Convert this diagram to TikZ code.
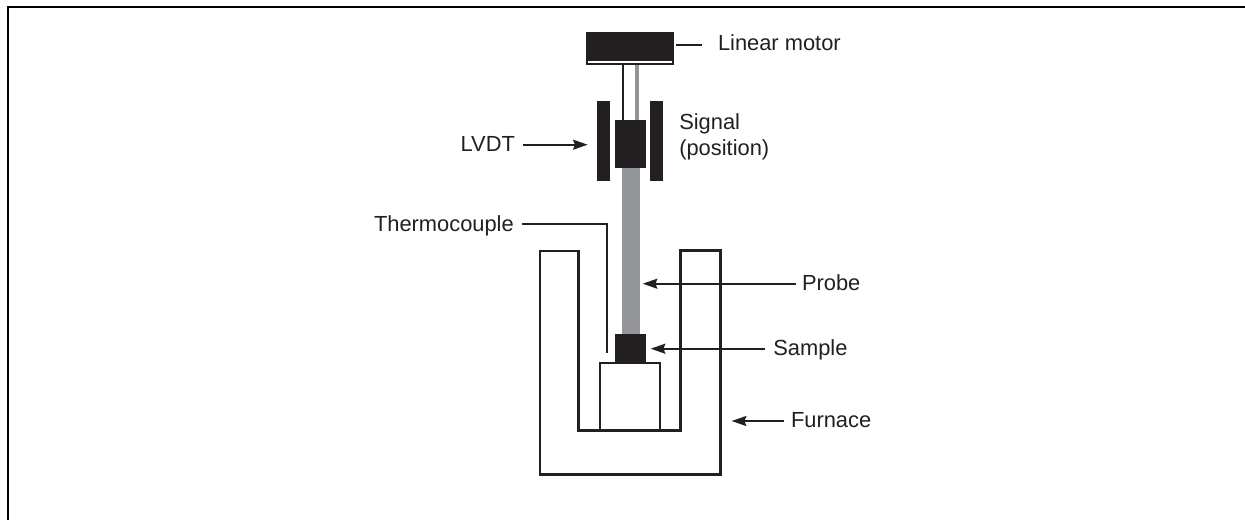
\documentclass[tikz,border=0pt]{standalone}
\usepackage{fontspec}
\setmainfont{Liberation Sans}
\usetikzlibrary{arrows.meta}
\definecolor{ink}{HTML}{231F20}
\definecolor{rodgray}{HTML}{939598}
\tikzset{
  x=0.75pt,y=-0.75pt,
  solidbox/.style n args={2}{draw=none,fill=ink,inner sep=0pt,outer sep=0pt,minimum width=#1*0.75pt,minimum height=#2*0.75pt},
  grayrod/.style n args={2}{draw=none,fill=rodgray,inner sep=0pt,outer sep=0pt,minimum width=#1*0.75pt,minimum height=#2*0.75pt},
  label/.style={inner sep=0pt,outer sep=0pt,text=ink,font=\fontsize{16.4pt}{20pt}\selectfont,anchor=base west},
  lead/.style={draw=ink,line width=1.4pt,-{Stealth[length=11pt,width=7.5pt,inset=1.5pt]}},
  plainlead/.style={draw=ink,line width=1.4pt},
  wall/.style={draw=ink,line width=2.1pt,line join=miter},
}
\begin{document}
\begin{tikzpicture}
\useasboundingbox (0,0) rectangle (1245,520);
% page frame
\draw[black,line width=2pt] (1245,7) -- (8,7) -- (8,520);
% furnace
\draw[wall] (540,251) -- (578.3,251) -- (578.3,430.3) -- (680.3,430.3) -- (680.3,250.5) -- (720.7,250.5) -- (720.7,474.5) -- (540,474.5) -- cycle;
% holder
\node (holder) [draw=ink,line width=1.5pt,fill=white,inner sep=0pt,outer sep=0pt,minimum width=60*0.75pt,minimum height=67.5*0.75pt] at (630.3,396.5) {};
% rods
\draw[ink,line width=1.5pt] (622.7,64) -- (622.7,122);
\draw[rodgray,line width=2.4pt] (637,64) -- (637,122);
\node (probe) [grayrod={18.3}{170}] at (630.9,250) {};
% motor
\node (motor) [solidbox={88}{32.7}] at (629.7,48.65) {};
\node (slit) [fill=white,inner sep=0pt,outer sep=0pt,minimum width=84*0.75pt,minimum height=2.6*0.75pt] at (629.7,62) {};
% LVDT
\node (coilL) [solidbox={12.4}{80}] at (603.5,141.3) {};
\node (coilR) [solidbox={12.4}{80}] at (656.5,141.3) {};
\node (core) [solidbox={30.7}{48.6}] at (630.3,144) {};
% sample
\node (sample) [solidbox={31.3}{28.7}] at (630.3,348.3) {};
% labels
\node (tMotor) [label] at (718,51) {Linear motor};
\node (tSignal) [label] at (679.3,129.5) {Signal};
\node (tPosition) [label] at (679.3,156) {(position)};
\node (tLVDT) [label] at (460.7,151.5) {LVDT};
\node (tThermo) [label] at (374,231.5) {Thermocouple};
\node (tProbe) [label] at (802,290.7) {Probe};
\node (tSample) [label] at (773.3,355) {Sample};
\node (tFurnace) [label] at (791,427.5) {Furnace};
% free ends
\coordinate (motorEnd) at (701.7,45);
\coordinate (lvdtTip) at (587.7,144.7);
\coordinate (thermoBend) at (606.7,224);
\coordinate (thermoEnd) at (606.7,353);
\coordinate (probeTip) at (642.7,283.7);
\coordinate (sampleTip) at (650.7,348.7);
\coordinate (furnaceTip) at (731.7,421);
% connectors
\draw[plainlead,shorten <=1.9pt] (motor.east |- motorEnd) -- (motorEnd);
\draw[lead,shorten <=6pt] (tLVDT.east |- lvdtTip) -- (lvdtTip);
\draw[draw=ink,line width=1.2pt,shorten <=6pt] (tThermo.east |- thermoBend) -- (thermoBend) -- (thermoEnd);
\draw[lead,shorten <=4.5pt] (tProbe.west |- probeTip) -- (probeTip);
\draw[lead,shorten <=6pt] (tSample.west |- sampleTip) -- (sampleTip);
\draw[lead,shorten <=5pt] (tFurnace.west |- furnaceTip) -- (furnaceTip);
\end{tikzpicture}
\end{document}
